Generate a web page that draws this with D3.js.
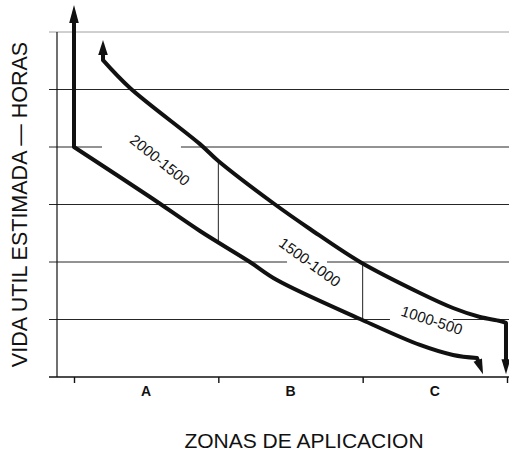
<!DOCTYPE html>
<html><head><meta charset="utf-8">
<script src="https://cdn.jsdelivr.net/npm/d3@7"></script>
<style>
body{margin:0;background:#fff}
svg{display:block}
text{font-family:"Liberation Sans",Arial,Helvetica,sans-serif;fill:#111}
</style>
</head><body>
<svg id="chart" width="509" height="456"></svg>
<script>
// ---------- data ----------
const zones = ["A", "B", "C"];
const zoneBounds = [0, 1, 2, 3];
const ruleLevels = [1, 2, 3, 4, 5, 6];
// life-band curves (x: zone units, y: grid-level units)
const upperCurve = [[0.201,5.51],[0.388,5.026],[0.873,4.05],[1.0,3.757],[1.379,3.026],[1.635,2.574],[1.982,2.0],[2.397,1.461],[2.626,1.2],[2.813,1.043],[2.952,0.974],[2.993,0.94]];
const upperStart = [0.201, 5.86];   // arrow tip at start
const upperEnd = [2.993, 0.05];     // arrow tip at end
const lowerCurve = [[0,4.0],[0.527,3.13],[0.873,2.539],[1.219,2.0],[1.406,1.687],[1.982,1.009],[2.397,0.557],[2.626,0.383],[2.792,0.33]];
const lowerStart = [0, 6.47];
const lowerEnd = [2.834, 0.05];
const bandLabels = ["2000-1500", "1500-1000", "1000-500"];
const bandLabelAt = [[0.596,3.774],[1.635,2.0],[2.48,0.99]];
const bandLabelAngle = [39, 36, 18];
const ruleBreaks = [[4,0.194,0.741],[2,1.476,1.753],[1,2.189,2.626]];
const yTitle = "VIDA UTIL ESTIMADA \u2014 HORAS";
const xTitle = "ZONAS DE APLICACION";

// ---------- scales ----------
const svg = d3.select("#chart");
const x = d3.scaleLinear().domain([0, 3]).range([74, 507]);
const y = d3.scaleLinear().domain([0, 6]).range([377, 32]);
const P = d => [x(d[0]), y(d[1])];
const ruleLeft = x(0) - 25, ruleRight = 509, axisX = x(0) - 17;

// ---------- horizontal rules with breaks ----------
ruleLevels.forEach(lv => {
  const br = ruleBreaks.filter(b => b[0] === lv).sort((a,b)=>a[1]-b[1]);
  let segs = [], start = ruleLeft;
  br.forEach(b => { segs.push([start, x(b[1])]); start = x(b[2]); });
  segs.push([start, ruleRight]);
  svg.append("g").selectAll("line").data(segs).join("line")
    .attr("x1", s => s[0]).attr("x2", s => s[1])
    .attr("y1", y(lv)).attr("y2", y(lv))
    .attr("stroke", lv === 6 ? "#a0a0a0" : "#262626")
    .attr("stroke-width", 1);
});

// ---------- y axis line ----------
svg.append("line").attr("x1", axisX).attr("x2", axisX)
  .attr("y1", y(6)).attr("y2", y(0)).attr("stroke", "#111").attr("stroke-width", 1.2);

// ---------- bottom axis ----------
const xAxis = d3.axisBottom(x).tickValues(zoneBounds).tickSize(6).tickFormat("");
const gx = svg.append("g").attr("transform", `translate(0,${y(0)})`).call(xAxis);
gx.select(".domain").remove();
gx.selectAll(".tick line").attr("stroke", "#111").attr("stroke-width", 1.4);
svg.append("line").attr("x1", ruleLeft).attr("x2", ruleRight)
  .attr("y1", y(0)).attr("y2", y(0)).attr("stroke", "#111").attr("stroke-width", 1.6);
svg.append("g").selectAll("text").data(zones).join("text")
  .attr("x", (d,i) => x(i + 0.5)).attr("y", y(0) + 19)
  .attr("text-anchor", "middle").attr("font-size", 14).attr("font-weight", 600)
  .text(d => d);

// ---------- zone separators between curves ----------
function interpY(curve, xv) {
  for (let i = 0; i < curve.length - 1; i++) {
    const a = curve[i], b = curve[i+1];
    if (xv >= a[0] && xv <= b[0]) return a[1] + (b[1]-a[1]) * (xv - a[0]) / (b[0]-a[0]);
  }
  return null;
}
[1, 2].forEach(b => {
  svg.append("line").attr("x1", x(b)).attr("x2", x(b))
    .attr("y1", y(interpY(upperCurve, b))).attr("y2", y(interpY(lowerCurve, b)))
    .attr("stroke", "#222").attr("stroke-width", 1);
});

// ---------- curves with arrowheads ----------
const curveGen = d3.line().x(d => x(d[0])).y(d => y(d[1])).curve(d3.curveCatmullRom.alpha(0.5));
function arrowBase(tip, from, len) {
  const dx = tip[0]-from[0], dy = tip[1]-from[1], L = Math.hypot(dx, dy);
  return [tip[0] - dx/L*len, tip[1] - dy/L*len];
}
function arrowHead(tip, from, len, hw) {
  const dx = tip[0]-from[0], dy = tip[1]-from[1], L = Math.hypot(dx, dy);
  const ux = dx/L, uy = dy/L, bx = tip[0]-ux*len, by = tip[1]-uy*len;
  svg.append("path")
    .attr("d", `M${tip[0]},${tip[1]}L${bx - uy*hw},${by + ux*hw}L${bx + uy*hw},${by - ux*hw}Z`)
    .attr("fill", "#111");
}
function band(curve, startTip, endTip, lenS, lenE, sw) {
  const first = P(curve[0]), last = P(curve[curve.length-1]);
  const tS = P(startTip), tE = P(endTip);
  const bS = arrowBase(tS, first, lenS - 2), bE = arrowBase(tE, last, lenE - 2);
  const d = `M${bS[0]},${bS[1]}L${first[0]},${first[1]}` + curveGen(curve).replace(/^M/, "L") + `L${bE[0]},${bE[1]}`;
  svg.append("path").attr("d", d).attr("fill", "none").attr("stroke", "#111")
    .attr("stroke-width", sw).attr("stroke-linejoin", "round");
  arrowHead(tS, first, lenS, 4.8);
  arrowHead(tE, last, lenE, 4.5);
}
band(lowerCurve, lowerStart, lowerEnd, 18, 15, 4);
band(upperCurve, upperStart, upperEnd, 15, 15, 4);

// ---------- band labels ----------
svg.append("g").selectAll("text").data(bandLabels).join("text")
  .attr("transform", (d,i) => `translate(${x(bandLabelAt[i][0])},${y(bandLabelAt[i][1])}) rotate(${bandLabelAngle[i]})`)
  .attr("text-anchor", "middle").attr("dominant-baseline", "central")
  .attr("font-size", 15).text(d => d);

// ---------- titles ----------
svg.append("text").attr("transform", `translate(27,${(y(0)+y(6))/2}) rotate(-90)`)
  .attr("text-anchor", "middle").attr("font-size", 21.5).text(yTitle);
svg.append("text").attr("x", 304).attr("y", 448)
  .attr("text-anchor", "middle").attr("font-size", 21).text(xTitle);
</script>
</body></html>
